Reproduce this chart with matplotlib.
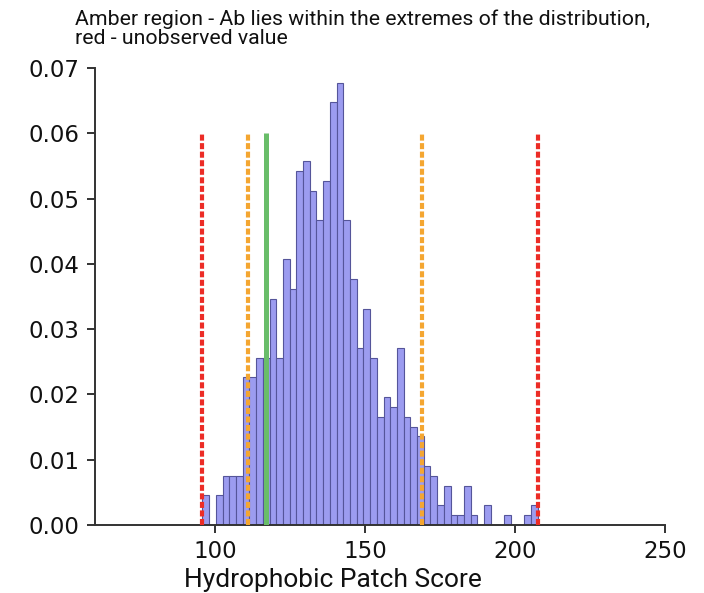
import numpy as np
import matplotlib
matplotlib.use("Agg")
import matplotlib.pyplot as plt

# Histogram data (counts per bin; heights shown as fraction of total)
score_min = 95.8
score_max = 207.5
counts = [3, 0, 3, 5, 5, 5, 15, 15, 17, 17,
          23, 17, 27, 24, 36, 37, 34, 31, 35, 43,
          45, 31, 25, 18, 22, 17, 11, 13, 12, 18,
          11, 10, 9, 6, 5, 2, 4, 1, 1, 4,
          1, 0, 2, 0, 0, 1, 0, 0, 1, 2]

# reference lines
red_lines = [95.8, 207.5]      # unobserved value limits
amber_lines = [110.8, 168.9]   # amber region
observed = 116.8               # Ab value
line_top = 0.06

title = "Amber region - Ab lies within the extremes of the distribution,\nred - unobserved value"
xlabel = "Hydrophobic Patch Score"
yticks = [0.00, 0.01, 0.02, 0.03, 0.04, 0.05, 0.06, 0.07]
xticks = [100, 150, 200, 250]

counts = np.array(counts, dtype=float)
edges = np.linspace(score_min, score_max, len(counts) + 1)
centers = (edges[:-1] + edges[1:]) / 2

fig = plt.figure(figsize=(7.04, 5.93), dpi=100)
ax = fig.add_axes([0.135, 0.1147, 0.81, 0.7707])

ax.hist(centers, bins=edges, weights=counts / counts.sum(),
        color="#9c9cf0", edgecolor="#55559a", linewidth=0.8, zorder=2)

for x in red_lines:
    ax.plot([x, x], [0, line_top], color="#ec2c26", lw=3,
            linestyle=(0, (1.45, 0.6)), dash_capstyle="butt", zorder=3)
for x in amber_lines:
    ax.plot([x, x], [0, line_top], color="#f4a631", lw=3,
            linestyle=(0, (1.45, 0.6)), dash_capstyle="butt", zorder=3)
ax.plot([observed, observed], [0, line_top], color="#69bd69", lw=3.6,
        solid_capstyle="butt", zorder=3)

ax.set_xlim(60, 250)
ax.set_ylim(0, 0.07)
ax.set_xticks(xticks)
ax.set_yticks(yticks)
ax.set_yticklabels(["%.2f" % v for v in yticks])

for side in ["top", "right"]:
    ax.spines[side].set_visible(False)
for side in ["left", "bottom"]:
    ax.spines[side].set_color("#333333")
    ax.spines[side].set_linewidth(1.4)
ax.tick_params(direction="out", length=6, width=1.4, color="#333333",
               labelsize=16.5, labelcolor="#111111", pad=5)
for lab in ax.get_xticklabels() + ax.get_yticklabels():
    lab.set_family("DejaVu Sans")

fig.text(0.107, 0.984, title, ha="left", va="top", fontsize=15.3,
         family="Roboto", linespacing=0.98, color="#111111")
fig.text(0.473, 0.002, xlabel, ha="center", va="bottom", fontsize=19,
         family="Roboto", color="#111111")

fig.savefig("out.png", dpi=100)
